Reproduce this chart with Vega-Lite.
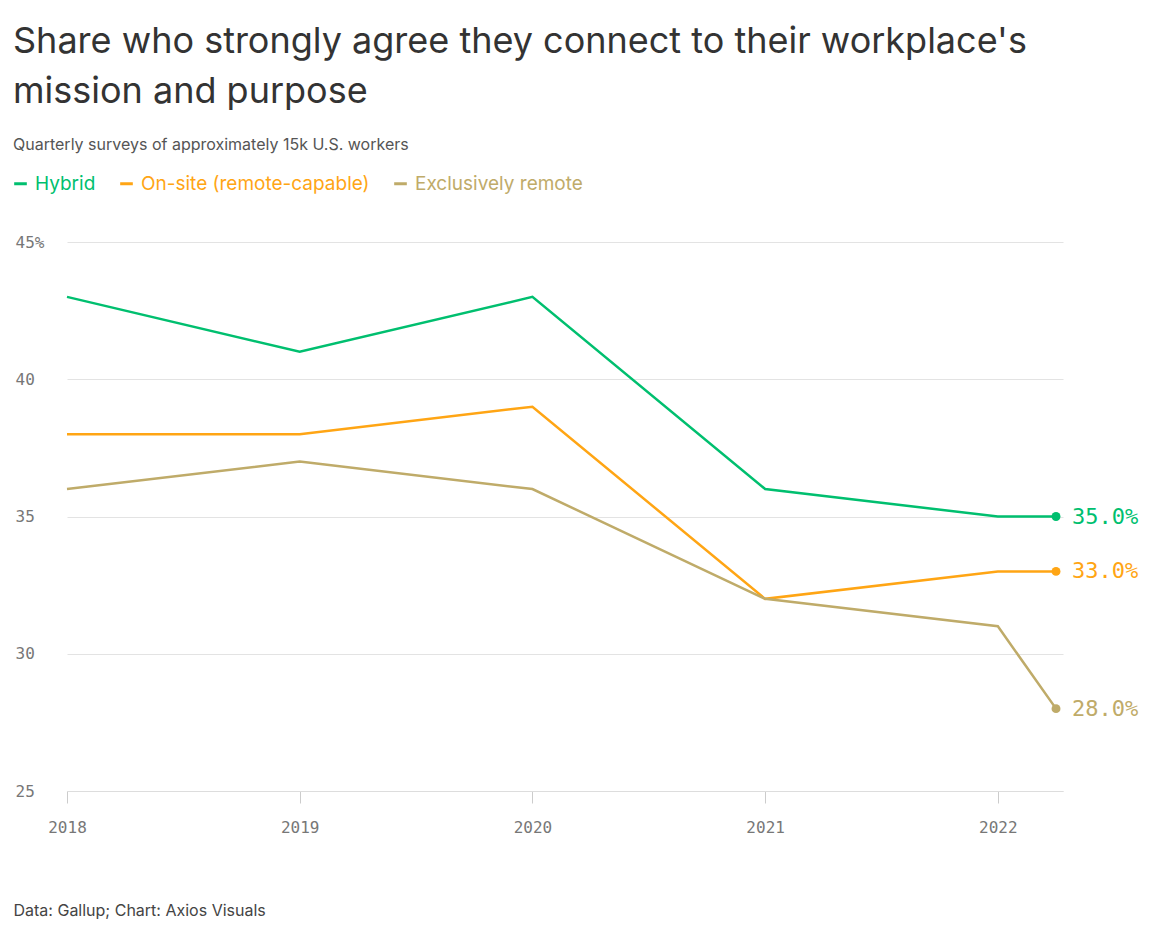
{
  "$schema": "https://vega.github.io/schema/vega-lite/v6.json",
  "autosize": "none",
  "width": 996,
  "height": 549,
  "padding": {"left": 67, "top": 242, "right": 96, "bottom": 136},
  "background": "white",
  "config": {"view": {"stroke": null}},
  "title": {
    "text": ["Share who strongly agree they connect to their workplace's", "mission and purpose"],
    "subtitle": "Quarterly surveys of approximately 15k U.S. workers",
    "anchor": "start", "frame": "group", "dx": -54, "offset": 20,
    "font": "Inter", "fontSize": 36, "fontWeight": "normal", "color": "#333333", "lineHeight": 50,
    "subtitleFont": "Inter", "subtitleFontSize": 16, "subtitleColor": "#555555", "subtitlePadding": 26
  },
  "data": {"values": [
    {"t": 2018, "s": "Hybrid", "v": 43}, {"t": 2019, "s": "Hybrid", "v": 41}, {"t": 2020, "s": "Hybrid", "v": 43},
    {"t": 2021, "s": "Hybrid", "v": 36}, {"t": 2022, "s": "Hybrid", "v": 35}, {"t": 2022.25, "s": "Hybrid", "v": 35},
    {"t": 2018, "s": "On-site (remote-capable)", "v": 38}, {"t": 2019, "s": "On-site (remote-capable)", "v": 38}, {"t": 2020, "s": "On-site (remote-capable)", "v": 39},
    {"t": 2021, "s": "On-site (remote-capable)", "v": 32}, {"t": 2022, "s": "On-site (remote-capable)", "v": 33}, {"t": 2022.25, "s": "On-site (remote-capable)", "v": 33},
    {"t": 2018, "s": "Exclusively remote", "v": 36}, {"t": 2019, "s": "Exclusively remote", "v": 37}, {"t": 2020, "s": "Exclusively remote", "v": 36},
    {"t": 2021, "s": "Exclusively remote", "v": 32}, {"t": 2022, "s": "Exclusively remote", "v": 31}, {"t": 2022.25, "s": "Exclusively remote", "v": 28}
  ]},
  "encoding": {
    "x": {"field": "t", "type": "quantitative", "title": "Data: Gallup; Chart: Axios Visuals",
      "scale": {"domain": [2018, 2022.28], "nice": false, "zero": false},
      "axis": {"values": [2018, 2019, 2020, 2021, 2022], "format": "d", "grid": false, "labelFlush": false,
        "domainColor": "#dddddd", "tickColor": "#cccccc", "tickSize": 12,
        "labelFont": "DejaVu Sans Mono", "labelFontSize": 16, "labelColor": "#777777", "labelPadding": 16,
        "titleFont": "Inter", "titleFontSize": 16, "titleFontWeight": "normal", "titleColor": "#444444",
        "titleAnchor": "start", "titleAlign": "left", "titleX": -54, "titleY": 124, "titleBaseline": "alphabetic"}},
    "y": {"field": "v", "type": "quantitative", "title": null,
      "scale": {"domain": [25, 45], "nice": false, "zero": false},
      "axis": {"values": [25, 30, 35, 40, 45], "labelExpr": "datum.value == 45 ? '45%' : datum.label",
        "domain": false, "ticks": false, "gridColor": "#e3e3e3",
        "labelAlign": "left", "labelPadding": 52, "labelBaseline": "middle",
        "labelFont": "DejaVu Sans Mono", "labelFontSize": 16, "labelColor": "#777777"}},
    "color": {"field": "s", "type": "nominal", "sort": ["Hybrid", "On-site (remote-capable)", "Exclusively remote"],
      "scale": {"domain": ["Hybrid", "On-site (remote-capable)", "Exclusively remote"], "range": ["#00BF6F", "#FFA514", "#BFAB69"]},
      "legend": {"title": null, "orient": "none", "legendX": -56, "legendY": -68, "direction": "horizontal",
        "symbolType": "stroke", "symbolStrokeWidth": 3, "symbolSize": 160, "columnPadding": 18, "labelLimit": 400,
        "labelFont": "Inter", "labelFontSize": 19, "labelOffset": 5,
        "encode": {"labels": {"update": {"fill": {"scale": "color", "field": "value"}}}}}}
  },
  "layer": [
    {"mark": {"type": "line", "strokeWidth": 2.5}},
    {"transform": [{"filter": "datum.t == 2022.25"}], "mark": {"type": "point", "filled": true, "size": 80, "opacity": 1}},
    {"transform": [{"filter": "datum.t == 2022.25"}, {"calculate": "format(datum.v, '.1f') + '%'", "as": "lab"}],
      "mark": {"type": "text", "align": "left", "dx": 16, "font": "DejaVu Sans Mono", "fontSize": 22},
      "encoding": {"text": {"field": "lab", "type": "nominal"}}}
  ]
}
